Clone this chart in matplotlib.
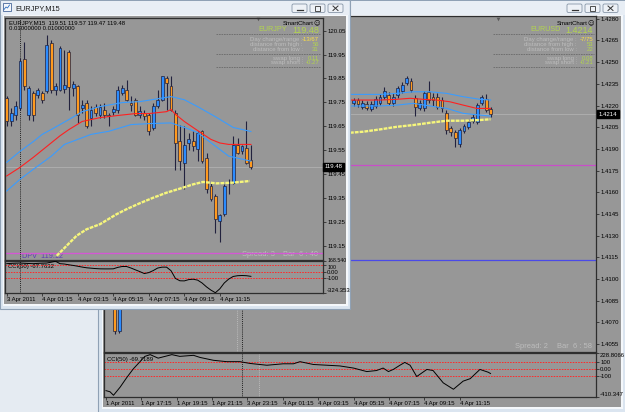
import matplotlib
matplotlib.use("Agg")
import matplotlib.pyplot as plt
from matplotlib.patches import Rectangle, FancyBboxPatch
import matplotlib.transforms as mtrans

plt.rcParams['font.family'] = ['Liberation Sans', 'DejaVu Sans']

# ======================= DATA =======================
# ---- front window: EURJPY,M15 (bar 0 = 3 Apr 23:15)
fj_bars = list(range(56))
fj_open = [119.768,119.671,119.699,119.727,119.931,119.699,119.789,119.782,119.789,119.796,
           120.000,119.800,119.803,119.806,119.960,119.810,119.817,119.727,119.747,119.685,
           119.731,119.699,119.720,119.699,119.709,119.717,119.789,119.803,119.747,119.761,
           119.699,119.706,119.695,119.643,119.736,119.761,119.852,119.817,119.706,119.587,
           119.497,119.578,119.587,119.553,119.629,119.518,119.400,119.358,119.254,119.282,
           119.411,119.414,119.573,119.546,119.560,119.510]
fj_close = [119.671,119.706,119.736,119.921,119.820,119.810,119.699,119.800,119.761,119.990,
            119.800,119.817,119.977,119.824,119.814,119.828,119.699,119.740,119.650,119.720,
            119.706,119.731,119.695,119.692,119.722,119.800,119.809,119.761,119.740,119.699,
            119.713,119.692,119.629,119.736,119.761,119.859,119.831,119.720,119.580,119.504,
            119.573,119.597,119.567,119.622,119.504,119.386,119.344,119.261,119.278,119.400,
            119.416,119.573,119.539,119.566,119.497,119.480]
fj_high = [119.775,119.727,119.754,119.935,120.004,119.817,119.796,119.810,119.796,120.032,
           120.011,119.831,119.984,119.970,119.970,119.838,119.824,119.761,119.761,119.734,
           119.741,119.741,119.747,119.706,119.734,119.820,119.824,119.845,119.775,119.768,
           119.734,119.720,119.706,119.747,119.803,119.861,119.859,119.861,119.720,119.657,
           119.650,119.620,119.630,119.630,119.636,119.539,119.414,119.365,119.282,119.407,
           119.428,119.608,119.602,119.573,119.671,119.570]
fj_low = [119.650,119.650,119.678,119.720,119.803,119.678,119.671,119.768,119.747,119.789,
          119.789,119.782,119.796,119.789,119.720,119.775,119.664,119.706,119.643,119.650,
          119.692,119.685,119.685,119.650,119.699,119.706,119.782,119.754,119.713,119.692,
          119.685,119.678,119.615,119.636,119.727,119.754,119.720,119.713,119.469,119.469,
          119.386,119.550,119.546,119.504,119.497,119.372,119.337,119.205,119.164,119.275,
          119.365,119.407,119.532,119.532,119.490,119.470]

fj_mid_x = [0,3,6,9,12,14,17,21,25,29,32,36,37,38,40,43,46,48,50,55]
fj_mid_y = [119.442,119.478,119.52,119.565,119.61,119.636,119.67,119.686,119.695,119.703,
            119.703,119.711,119.72,119.70,119.67,119.632,119.595,119.58,119.574,119.574]
fj_up_x = [0,3,6,8,10,14,17,21,26,30,34,37,40,43,47,51,55]
fj_up_y = [119.499,119.545,119.586,119.616,119.636,119.678,119.711,119.732,119.749,119.753,
           119.765,119.774,119.761,119.732,119.69,119.645,119.628]
fj_lo_x = [0,3,6,10,13,16,19,23,28,32,37,40,43,45,48,50,55]
fj_lo_y = [119.379,119.428,119.47,119.524,119.574,119.595,119.616,119.629,119.657,119.661,
           119.664,119.645,119.624,119.595,119.553,119.525,119.504]
fj_slow_x = [11.25,13.5,15.75,18,21,24.75,27,30,33,36,39,42,44.25,47.25,51,54.75]
fj_slow_y = [119.108,119.150,119.192,119.219,119.240,119.282,119.303,119.328,119.351,119.372,
             119.389,119.407,119.417,119.411,119.414,119.421]
fj_cci = [127,132,135,137,133,130,127,132,135,137,
          150,165,127,122,110,100,88,75,64,58,
          52,48,47,47,48,70,84,84,60,32,
          5,-25,-10,21,60,74,74,20,-100,-136,
          -138,-118,-112,-126,-170,-230,-280,-320,-260,-170,
          -110,-70,-58,-55,-58,-67.76]
fj_price_ticks = [120.05,119.95,119.85,119.75,119.65,119.55,119.45,119.35,119.25,119.15]
fj_time_ticks = [0,8,16,24,32,40,48]
fj_time_labels = ['3 Apr 2011','4 Apr 01:15','4 Apr 03:15','4 Apr 05:15',
                  '4 Apr 07:15','4 Apr 09:15','4 Apr 11:15']
fj_bid = 119.48
fj_dpv = 119.12
fj_separator = 3
fj_cci_range = (-324.353, 168.540)

# ---- back window: EURUSD,M15 (bar 0 = 1 Apr 15:15)
eu_bars = [2, 3] + list(range(56, 88))
eu_open = [1.40950,1.40641,
           1.42217,1.42238,1.42190,1.42210,1.42176,1.42197,1.42217,1.42259,1.42273,1.42217,
           1.42273,1.42300,1.42356,1.42369,1.42252,1.42183,1.42183,1.42293,1.42259,1.42259,
           1.42238,1.42148,1.42044,1.42017,1.41934,1.42024,1.42051,1.42093,1.42086,1.42217,
           1.42245,1.42176]
eu_close = [1.40641,1.40900,
            1.42238,1.42210,1.42217,1.42183,1.42210,1.42245,1.42259,1.42300,1.42217,1.42259,
            1.42321,1.42342,1.42390,1.42307,1.42190,1.42217,1.42286,1.42238,1.42238,1.42190,
            1.42183,1.42031,1.42017,1.41975,1.42031,1.42058,1.42086,1.42121,1.42203,1.42259,
            1.42169,1.42140]
eu_high = [1.41000,1.40950,
           1.42252,1.42252,1.42238,1.42231,1.42231,1.42266,1.42280,1.42328,1.42293,1.42286,
           1.42335,1.42362,1.42404,1.42390,1.42273,1.42238,1.42300,1.42369,1.42286,1.42286,
           1.42259,1.42169,1.42058,1.42031,1.42044,1.42072,1.42107,1.42141,1.42217,1.42273,
           1.42280,1.42190]
eu_low = [1.40621,1.40627,
          1.42197,1.42190,1.42176,1.42169,1.42162,1.42183,1.42203,1.42245,1.42203,1.42197,
          1.42252,1.42286,1.42342,1.42293,1.42127,1.42169,1.42162,1.42217,1.42197,1.42176,
          1.42155,1.42003,1.41989,1.41913,1.41913,1.42010,1.42038,1.42079,1.42072,1.42203,
          1.42155,1.42121]
eu_up_x = [55.2,62,65.8,69.5,73.3,77.1,80.8,84.6,87]
eu_up_y = [1.42277,1.42277,1.42284,1.42295,1.42295,1.42284,1.42261,1.42243,1.42238]
eu_mid_x = [55.2,62,65.8,68.8,71.8,74.8,77.8,80.8,83.9,87]
eu_mid_y = [1.42238,1.42238,1.42243,1.42250,1.42243,1.42238,1.42226,1.42203,1.42180,1.42180]
eu_lo_x = [55.2,62,65.8,69.5,73.3,77.1,80.8,84.6,87]
eu_lo_y = [1.42197,1.42197,1.42203,1.42215,1.42197,1.42180,1.42146,1.42134,1.42127]
eu_slow_x = [55.2,58.2,62,65.8,69.5,73.3,77.1,80.8,84.6,87]
eu_slow_y = [1.42012,1.42019,1.42035,1.42053,1.42065,1.42081,1.42095,1.42095,1.42100,1.42105]
eu_cci_x = [0,0.9,1.7,3.2,4.7,6.2,7.7,8.8,10,11.8,14.9,16.7,19.8,21.3,24.3,27.3,30.3,32.6,
            36.4,40.1,42.4,43.9,46.9,52.9,56,59,61.2,62.7,63.9,65,66.5,67.6,68.8,70.3,72.6,
            74,76.3,78.6,80.8,82.4,84.6,86.5,87]
eu_cci_y = [-318,-334,-385,-267,-128,0,103,180,205,154,205,180,195,164,123,103,103,77,
            51,72,72,103,62,41,10,-41,-26,10,-41,-10,51,92,51,-113,-10,
            -26,-205,-298,-180,-144,-10,-51,-69.72]
eu_price_ticks = [1.4280,1.4265,1.4250,1.4235,1.4220,1.4205,1.4190,1.4175,1.4160,1.4145,
                  1.4130,1.4115,1.4100,1.4085,1.4070,1.4055]
eu_time_ticks = [0,8,16,24,32,40,48,56,64,72,80]
eu_time_labels = ['1 Apr 2011','1 Apr 17:15','1 Apr 19:15','1 Apr 21:15','3 Apr 23:15',
                  '4 Apr 01:15','4 Apr 03:15','4 Apr 05:15','4 Apr 07:15','4 Apr 09:15',
                  '4 Apr 11:15']
eu_bid = 1.4214
eu_pink_level = 1.4179
eu_blue_level = 1.41133
eu_separator = 30.7
eu_grey_main = 29.6
eu_grey_cci = 34.7
eu_cci_range = (-410.347, 228.8066)

# ======================= STYLE =======================
W, H = 625, 412
BG = '#979797'
AXC = '#2e2e2e'
BULL = '#2b8cff'
BEAR = '#ff9a1e'
WICK = '#22223e'
DESK = '#e5ebf2'
FRAME = '#dbe5f0'
TB = '#e8eef5'
GREEN = '#b2d44e'
LGREY = '#bdbdbd'
YEL = '#f6f67c'
YEL_LS = (0, (1.6, 0.45))
FS = 4.3

fig = plt.figure(figsize=(W / 100, H / 100), dpi=100)


def px_axes(x0, y0, x1, y1, z):
    ax = fig.add_axes([x0 / W, 1 - y1 / H, (x1 - x0) / W, (y1 - y0) / H], zorder=z)
    ax.patch.set_alpha(0)
    for s in ax.spines.values():
        s.set_color(AXC)
        s.set_linewidth(0.9)
    return ax


def chrome_axes(z):
    ax = fig.add_axes([0, 0, 1, 1], zorder=z)
    ax.set_xlim(0, W)
    ax.set_ylim(H, 0)
    ax.axis('off')
    return ax


def window(ax, x0, y0, x1, y1, client, btn_x):
    ax.add_patch(Rectangle((x0, y0), x1 - x0, y1 - y0, fc=FRAME, ec='#8fa1b5', lw=0.8))
    ax.add_patch(Rectangle((x0 + 1, y0 + 1), x1 - x0 - 2, 14, fc=TB, ec='none'))
    cx0, cy0, cx1, cy1 = client
    ax.add_patch(Rectangle((cx0 - 1.5, cy0 - 1), cx1 - cx0 + 3, cy1 - cy0 + 2.5,
                           fc='#f5f8fb', ec='none'))
    ax.add_patch(Rectangle((cx0, cy0), cx1 - cx0, cy1 - cy0, fc=BG, ec='none'))
    for k, bx in enumerate(btn_x):
        ax.add_patch(FancyBboxPatch((bx, 4), 15, 8.5, boxstyle='round,pad=0,rounding_size=1.5',
                                    fc='#edf1f6', ec='#8796a8', lw=0.6))
        cxm = bx + 7.5
        if k == 0:
            ax.plot([cxm - 3, cxm + 3], [10, 10], color='#333333', lw=0.9)
        elif k == 1:
            ax.add_patch(Rectangle((cxm - 2.5, 6), 5, 4.5, fc='none', ec='#333333', lw=0.6))
        else:
            ax.plot([cxm - 2.5, cxm + 2.5], [6, 10.5], color='#333333', lw=0.7)
            ax.plot([cxm - 2.5, cxm + 2.5], [10.5, 6], color='#333333', lw=0.7)


def smartchart(ax, xr, sym, price, dcr, dhi, dlo, swl, sws, xl):
    ax.text(xr - 6, 23.3, 'SmartChart', fontsize=FS, ha='right', va='center', color='black')
    ax.text(xr - 0.5, 23.3, '\u263a', fontsize=4.5, ha='right', va='center', color='black',
            family='DejaVu Sans')
    ax.text(xr - 33, 29.5, sym, fontsize=5.2, ha='right', va='center', color=GREEN)
    ax.text(xr - 1, 30.3, price, fontsize=6.5, ha='right', va='center', color=GREEN)
    for yy in (34, 54, 66.7):
        ax.plot([xl, xr], [yy, yy], color='#6a6a6a', lw=0.6, ls=(0, (2, 1)))
    rows = [('Day change/range :', dcr, '#ffe040', 39), ('distance from high :', dhi, GREEN, 44),
            ('distance from low :', dlo, GREEN, 49), ('swap long :', swl, GREEN, 58.3),
            ('swap short :', sws, GREEN, 62.7)]
    for lab, val, col, yy in rows:
        ax.text(xr - 17, yy, lab, fontsize=FS, ha='right', va='center', color=LGREY)
        ax.text(xr - 1, yy, val, fontsize=FS, ha='right', va='center', color=col)


def candles(ax, t, o, h, l, c, minh):
    bottoms = [min(a, b) for a, b in zip(o, c)]
    heights = [max(abs(b - a), minh) for a, b in zip(o, c)]
    cols = [BULL if b >= a else BEAR for a, b in zip(o, c)]
    ax.vlines(t, l, h, colors=WICK, lw=0.8, zorder=3)
    ax.bar(t, heights, bottom=bottoms, width=0.64, color=cols, edgecolor=WICK,
           linewidth=0.5, zorder=4)


def style_price(ax, ticks, fmt):
    ax.set_yticks(ticks)
    ax.set_yticklabels([fmt % v for v in ticks])
    ax.tick_params(axis='y', left=False, right=True, labelleft=False, labelright=True,
                   direction='out', length=2, width=0.6, color=AXC, pad=1,
                   labelsize=FS, labelcolor='black')
    ax.tick_params(axis='x', bottom=False, labelbottom=False)


def style_time(ax, ticks, labels):
    ax.set_xticks(ticks)
    ax.set_xticklabels(labels)
    ax.tick_params(axis='x', bottom=True, labelbottom=True, direction='out', length=2,
                   width=0.6, color=AXC, pad=1, labelsize=FS, labelcolor='black')
    for lab in ax.get_xticklabels():
        lab.set_horizontalalignment('left')


def cci_panel(ax, rng, ticks, labels, top_va):
    ax.set_ylim(*rng)
    for v in (100, 0, -100):
        ax.axhline(v, color='#ff2a2a', lw=0.7, ls=(0, (1.6, 1.2)), zorder=2)
    ax.set_yticks(ticks)
    ax.set_yticklabels(labels)
    ax.tick_params(axis='y', left=False, right=True, labelleft=False, labelright=True,
                   direction='out', length=2, width=0.6, color=AXC, pad=1,
                   labelsize=FS, labelcolor='black')
    tk = ax.yaxis.get_major_ticks()
    tk[0].label2.set_verticalalignment(top_va)
    tk[-1].label2.set_verticalalignment('bottom')


def bid_box(ax, val, txt):
    tr = mtrans.blended_transform_factory(ax.transAxes, ax.transData)
    ax.text(1.006, val, txt, transform=tr, ha='left', va='center', fontsize=FS, color='white',
            bbox=dict(boxstyle='square,pad=0.25', fc='black', ec='black'), clip_on=False,
            zorder=10)


# ======================= BACK WINDOW =======================
bc = chrome_axes(0)
bc.add_patch(Rectangle((0, 0), W, H, fc=DESK, ec='none'))
window(bc, 98, 0, 626, 413, (103, 16, 621, 407), [567, 585, 603])
bc.plot([498.3], [18.6], marker='v', ms=2.6, color='#5a5a5a', mec='none')
smartchart(bc, 594, 'EURUSD', '1.4214', '-7/75', '53', '22', '0.08', '-0.21', 493)
bc.text(515, 347, 'Spread: 2', fontsize=5.4, color=LGREY, va='center')
bc.text(557, 347, 'Bar  6 : 58', fontsize=5.4, color=LGREY, va='center')
bc.text(107, 359, 'CCI(50) -69.7189', fontsize=FS, color='black', va='center')

bx0 = -0.45
bx1 = 110.86
axb = px_axes(104, 16, 596, 352, 1)
axb.set_xlim(bx0, bx1)
axb.set_ylim(1.40496, 1.42819)
axb.axhline(eu_bid, color='#b1b1b1', lw=0.6, zorder=1)
axb.axhline(eu_pink_level, color='#c84ec8', lw=0.9, zorder=1)
axb.axhline(eu_blue_level, color='#4a4ae8', lw=0.9, zorder=1)
axb.axvline(eu_separator, color='black', lw=0.6, ls=(0, (1, 1.3)), zorder=1)
axb.axvline(eu_grey_main, color='#c4c4c4', lw=0.6, ls=(0, (1, 1.3)), zorder=1)
candles(axb, eu_bars, eu_open, eu_high, eu_low, eu_close, 0.00004)
axb.plot(eu_up_x, eu_up_y, color='#3a9cff', lw=0.8, zorder=5)
axb.plot(eu_lo_x, eu_lo_y, color='#3a9cff', lw=0.8, zorder=5)
axb.plot(eu_mid_x, eu_mid_y, color='#ff2020', lw=0.8, zorder=5)
axb.plot(eu_slow_x, eu_slow_y, color=YEL, lw=1.7, ls=YEL_LS, zorder=5)
style_price(axb, eu_price_ticks, '%.4f')
bid_box(axb, eu_bid, '1.4214')

axbc = px_axes(104, 353, 596, 397, 1)
axbc.set_xlim(bx0, bx1)
cci_panel(axbc, eu_cci_range, [228.8066, 100, 0, -100, -410.347],
          ['228.8066', '100', '0.00', '-100', '-410.347'], 'top')
axbc.axvline(eu_separator, color='black', lw=0.6, ls=(0, (1, 1.3)), zorder=1)
axbc.axvline(eu_grey_cci, color='#c4c4c4', lw=0.6, ls=(0, (1, 1.3)), zorder=1)
axbc.plot(eu_cci_x, eu_cci_y, color='black', lw=0.7, zorder=4)
style_time(axbc, eu_time_ticks, eu_time_labels)

# ======================= FRONT WINDOW =======================
fc = chrome_axes(2)
window(fc, 0, 0, 349.5, 309, (4, 16, 346, 304), [292, 310, 328])
fc.add_patch(Rectangle((2.5, 3), 8, 8, fc='#f4f7fb', ec='#47679a', lw=0.6))
fc.plot([4, 6, 7.5, 9.5], [9.5, 7, 8, 5], color='#2f6fc0', lw=0.6)
fc.text(15.5, 8.3, 'EURJPY,M15', fontsize=5.3, color='#1a1a1a', va='center')
fc.plot([258], [18.6], marker='v', ms=2.6, color='#5a5a5a', mec='none')
fc.text(9, 22.7, 'EURJPY,M15  119.51 119.57 119.47 119.48', fontsize=FS, color='black',
        va='center')
fc.text(9, 28.3, '0.01000000 0.01000000', fontsize=FS, color='black', va='center')
smartchart(fc, 320, 'EURJPY', '119.48', '-13/67', '56', '31', '0.11', '-0.27', 216)
fc.text(22, 256.6, 'DPV  119.12', fontsize=5.2, color='#5a3cb4', va='center')
fc.text(242, 254.3, 'Spread: 3', fontsize=5.4, color=LGREY, va='center')
fc.text(283, 254.3, 'Bar  6 : 40', fontsize=5.4, color=LGREY, va='center')
fc.text(8.5, 266.2, 'CCI(50) -67.7632', fontsize=FS, color='black', va='center')

fx0 = (5 - 6.7) / 4.44
fx1 = (323 - 6.7) / 4.44
axf = px_axes(5, 18, 323, 260, 3)
axf.set_xlim(fx0, fx1)
axf.set_ylim(119.0904, 120.1029)
axf.axhline(fj_bid, color='#b1b1b1', lw=0.6, zorder=1)
axf.axhline(fj_dpv, color='#d458d4', lw=1.0, zorder=1)
axf.axvline(fj_separator, color='black', lw=0.6, ls=(0, (1, 1.3)), zorder=1)
candles(axf, fj_bars, fj_open, fj_high, fj_low, fj_close, 0.003)
axf.plot(fj_up_x, fj_up_y, color='#3a9cff', lw=0.8, zorder=5)
axf.plot(fj_lo_x, fj_lo_y, color='#3a9cff', lw=0.8, zorder=5)
axf.plot(fj_mid_x, fj_mid_y, color='#ff2020', lw=0.8, zorder=5)
axf.plot(fj_slow_x, fj_slow_y, color=YEL, lw=1.7, ls=YEL_LS, zorder=5)
style_price(axf, fj_price_ticks, '%.2f')
bid_box(axf, fj_bid, '119.48')

axfc = px_axes(5, 261, 323, 293, 3)
axfc.set_xlim(fx0, fx1)
cci_panel(axfc, fj_cci_range, [168.540, 100, 0, -100, -324.353],
          ['168.540', '100', '0.00', '-100', '-324.353'], 'center')
# the top tick labels sit close together, as in the reference; nudge the two apart
tks = axfc.yaxis.get_major_ticks()
tks[0].label2.set_fontsize(3.8)
tks[1].label2.set_fontsize(3.8)
tks[1].label2.set_verticalalignment('top')
axfc.axvline(fj_separator, color='black', lw=0.6, ls=(0, (1, 1.3)), zorder=1)
axfc.plot(fj_bars, fj_cci, color='black', lw=0.7, zorder=4)
style_time(axfc, fj_time_ticks, fj_time_labels)

fig.savefig('out.png', dpi=100)
